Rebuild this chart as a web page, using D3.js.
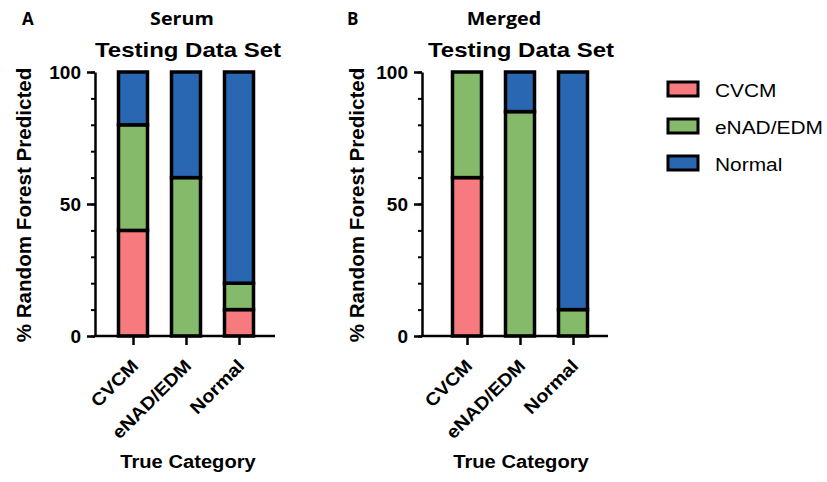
<!DOCTYPE html>
<html>
<head>
<meta charset="utf-8">
<script src="https://d3js.org/d3.v7.min.js"></script>
<style>
body { margin: 0; background: #fff; }
svg text { font-family: "Liberation Sans", Arial, sans-serif; }
</style>
</head>
<body>
<div id="chart"></div>
<script>
// values (% of each true category)
var categories = ["CVCM", "eNAD/EDM", "Normal"];
var groups = ["CVCM", "eNAD/EDM", "Normal"];
var colors = ["#F77B7E", "#84BA69", "#2A67B3"];

var serumCVCM   = [40, 0, 10];
var serumENAD   = [40, 60, 10];
var serumNormal = [20, 40, 80];

var mergedCVCM   = [60, 0, 0];
var mergedENAD   = [40, 85, 10];
var mergedNormal = [0, 15, 90];

var yTicks = [0, 50, 100];

var svg = d3.select("#chart").append("svg")
  .attr("width", 827)
  .attr("height", 482);

var y = d3.scaleLinear().domain([0, 100]).range([336, 72]);

// the original text is a wider face than Arial, so stretch it a bit
function label(g, x, yy, txt, size, sx, opts) {
  opts = opts || {};
  return g.append("text")
    .attr("transform", "translate(" + x + "," + yy + ")" + (opts.rot ? " rotate(" + opts.rot + ")" : "") + " scale(" + sx + ",1)")
    .attr("text-anchor", opts.anchor || "middle")
    .attr("font-size", size)
    .attr("font-weight", opts.normal ? "normal" : "bold")
    .style("font-family", opts.family || null)
    .text(txt);
}

function drawPanel(p) {
  var rows = categories.map(function(c, i) {
    return { cat: c, CVCM: p.a[i], "eNAD/EDM": p.b[i], Normal: p.c[i] };
  });
  var series = d3.stack().keys(groups)(rows);

  var x = d3.scalePoint().domain(categories).range([p.first, p.last]);
  var g = svg.append("g");

  // bars
  series.forEach(function(s, k) {
    g.selectAll(null)
      .data(s.filter(function(d) { return d[1] - d[0] > 0; }))
      .enter().append("rect")
      .attr("x", function(d) { return x(d.data.cat) - 14.5; })
      .attr("width", 29)
      .attr("y", function(d) { return y(d[1]); })
      .attr("height", function(d) { return y(d[0]) - y(d[1]); })
      .attr("fill", colors[k])
      .attr("stroke", "#000")
      .attr("stroke-width", 3.5);
  });

  // y axis: minor ticks every 10
  g.append("g")
    .attr("transform", "translate(" + p.left + ",0)")
    .call(d3.axisLeft(y).tickValues(d3.range(0, 101, 10)).tickSize(4).tickFormat(""))
    .call(function(a) { a.select(".domain").remove(); })
    .selectAll("line").attr("stroke-width", 2);

  var ya = g.append("g")
    .attr("transform", "translate(" + p.left + ",0)")
    .call(d3.axisLeft(y).tickValues(yTicks).tickSize(8).tickPadding(6).tickSizeOuter(0));
  ya.select(".domain").attr("stroke-width", 2.5);
  ya.selectAll("line").attr("stroke-width", 2.5);
  ya.selectAll("text")
    .attr("font-size", 19).attr("font-weight", "bold").attr("fill", "#000");

  // x axis
  var xa = g.append("g")
    .attr("transform", "translate(0,336)")
    .call(d3.axisBottom(x).tickSize(9).tickSizeOuter(0));
  xa.select(".domain").remove();
  xa.selectAll("line").attr("stroke-width", 2.5);
  xa.selectAll("text")
    .attr("font-size", 18).attr("font-weight", "bold").attr("fill", "#000")
    .attr("text-anchor", "end")
    .attr("x", 0).attr("y", 0).attr("dy", 0)
    .attr("transform", "translate(6,31) rotate(-45) scale(1.1,1)");

  g.append("line")
    .attr("x1", p.left - 1).attr("x2", p.right)
    .attr("y1", 336).attr("y2", 336)
    .attr("stroke", "#000").attr("stroke-width", 2.5);

  // labels
  label(g, p.ylabX, 205, "% Random Forest Predicted", 20, 1.03, { rot: -90 });
  label(g, p.titleX, 57, "Testing Data Set", 20, 1.2);
  label(g, p.supX, 25, p.name, 17, 1.16, { family: "'Open Sans', sans-serif" });
  label(g, p.letterX, 25, p.letter, 17, 1, { family: "'Open Sans', sans-serif", anchor: "start" });
  label(g, p.titleX, 468, "True Category", 18.5, 1.09);
}

drawPanel({ a: serumCVCM, b: serumENAD, c: serumNormal, name: "Serum", letter: "A",
  left: 95, first: 133, last: 239, right: 275, ylabX: 31, titleX: 188, supX: 182, letterX: 22 });
drawPanel({ a: mergedCVCM, b: mergedENAD, c: mergedNormal, name: "Merged", letter: "B",
  left: 422, first: 467, last: 573, right: 608, ylabX: 364, titleX: 521, supX: 504, letterX: 347 });

// legend
var legend = svg.append("g").attr("transform", "translate(668,82)");
groups.forEach(function(gname, i) {
  var row = legend.append("g").attr("transform", "translate(0," + (i * 37) + ")");
  row.append("rect")
    .attr("width", 30).attr("height", 14)
    .attr("fill", colors[i]).attr("stroke", "#000").attr("stroke-width", 3);
  label(row, 47, 15, gname, 18.5, 1.13, { anchor: "start", normal: true });
});
</script>
</body>
</html>
